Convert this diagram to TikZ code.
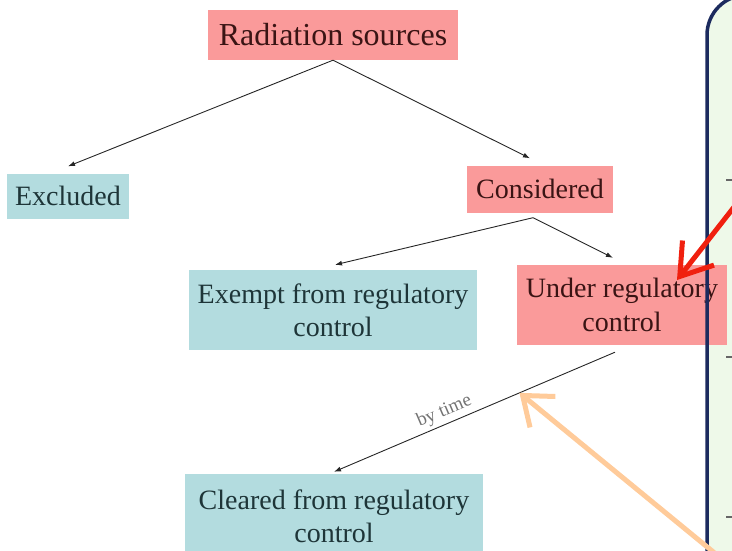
\documentclass[tikz,border=0pt]{standalone}
\usepackage{fontspec}
\setmainfont{Liberation Serif}
\definecolor{srcpink}{HTML}{FA9A9A}
\definecolor{regteal}{HTML}{B3DCDF}
\definecolor{pinktext}{HTML}{3A1414}
\definecolor{tealtext}{HTML}{1E3538}
\definecolor{panelnavy}{HTML}{1C2B5E}
\definecolor{panelgreen}{HTML}{EEF9E9}
\definecolor{hintred}{HTML}{F0200F}
\definecolor{hintorange}{HTML}{FFCB9A}
\usetikzlibrary{arrows.meta,positioning,calc}

\begin{document}
\begin{tikzpicture}[x=1pt,y=-1pt,
  pinkbox/.style={fill=srcpink, inner sep=0pt, align=center,
                  font=\fontsize{28}{34}\selectfont\color{pinktext}},
  tealbox/.style={fill=regteal, inner sep=0pt, align=center,
                  font=\fontsize{28}{33}\selectfont\color{tealtext}},
  conn/.style={draw=black!85, line width=0.9pt, -{Latex[length=7pt,width=5pt]}},
  lbl/.style={font=\fontsize{19}{22}\selectfont\color{black!55}},
  redhint/.style={draw=hintred, line width=5pt, line cap=round,
                  -{Straight Barb[length=30pt,width=40pt]}},
  orangehint/.style={draw=hintorange, line width=5pt, line cap=round,
                  -{Straight Barb[length=26pt,width=40pt]}}
]
  \useasboundingbox (0,0) rectangle (732,551);
  \clip (0,0) rectangle (732,551);

  % side panel
  \fill[panelgreen, rounded corners=40pt] (707,-5) rectangle (790,600);

  \node[pinkbox, minimum width=250pt, minimum height=50pt, font=\fontsize{32}{34}\selectfont\color{pinktext}]
       (src) at (333,35) {Radiation sources};
  \node[tealbox, minimum width=122pt, minimum height=45pt] (excl) at (68,196) {Excluded};
  \node[pinkbox, minimum width=146pt, minimum height=47pt] (cons) at (540,189) {Considered};
  \node[tealbox, minimum width=288pt, minimum height=80pt] (exempt) at (333,310)
       {Exempt from regulatory\\control};
  \node[pinkbox, minimum width=210pt, minimum height=80pt] (under) at (622,305)
       {Under regulatory\\control};
  \node[tealbox, minimum width=298pt, minimum height=84pt] (cleared) at (334,516)
       {Cleared from regulatory\\control};

  \draw[conn] (src.south) -- ([yshift=7pt]excl.north);
  \draw[conn] (src.south) -- ([shift={(-10pt,7pt)}]cons.north);
  \draw[conn] ([shift={(-7pt,-5pt)}]cons.south) -- ([shift={(-9pt,7pt)}]under.north);
  \draw[conn] ([shift={(-7pt,-5pt)}]cons.south) -- ([shift={(2pt,5pt)}]exempt.north);
  \draw[conn] ([shift={(-7pt,-7pt)}]under.south)
    -- coordinate[pos=0.34] (hit) node[pos=0.59, sloped, above, lbl] {by time}
    ([yshift=2pt]cleared.north);

  \draw[panelnavy, line width=3.5pt, rounded corners=40pt] (707,-5) rectangle (790,600);
  \foreach \y in {180,357,517}
    \draw[black!60, line width=1.2pt] (726,\y) -- (734,\y);

  % hint arrows
  \coordinate (redfrom) at (745,193);
  \coordinate (redtip) at (677,280);
  \coordinate (orangefrom) at (745,578);
  \draw[redhint] (redfrom) -- (redtip);
  \draw[orangehint] (orangefrom) -- (hit);
\end{tikzpicture}
\end{document}
